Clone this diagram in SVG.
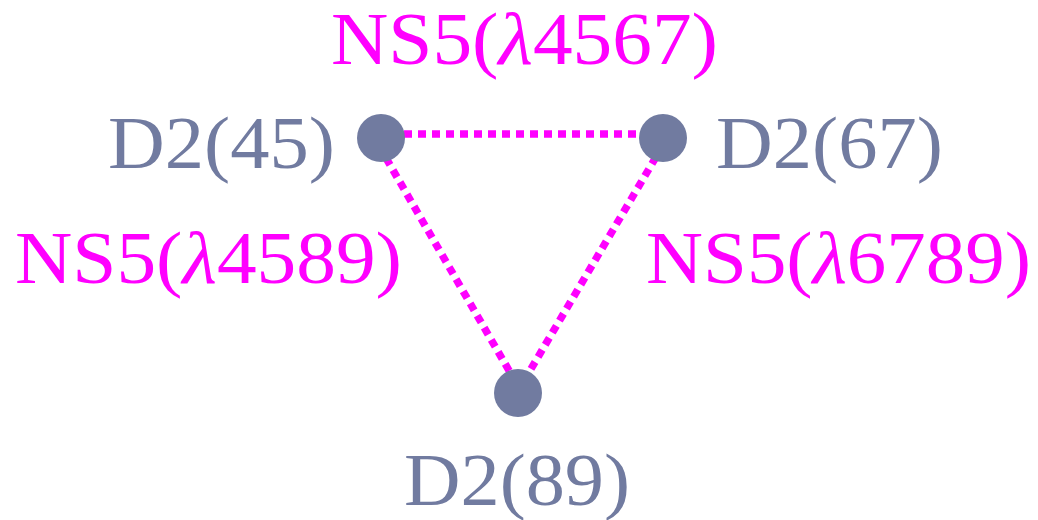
<svg xmlns="http://www.w3.org/2000/svg" width="1038" height="520" viewBox="0 0 1038 520">
<style>
.node{fill:#717ba0}
.lbl{font-family:"Liberation Serif",serif;font-size:73px;fill:#717ba0}
.elbl{font-family:"Liberation Serif",serif;font-size:73px;fill:#ff00ff}
.edge{stroke:#ff00ff;stroke-width:7.5;stroke-dasharray:8 6;fill:none}
.it{font-style:italic}
</style>
<rect width="1038" height="520" fill="#ffffff"/>
<g id="connectors">
<line class="edge" x1="404" y1="134" x2="640" y2="134"/>
<line class="edge" x1="386" y1="158" x2="511" y2="374"/>
<line class="edge" x1="656" y1="157" x2="528" y2="374"/>
</g>
<g id="n45">
<circle class="node" cx="381" cy="138" r="24"/>
<text class="lbl" x="108" y="168" textLength="227" lengthAdjust="spacingAndGlyphs">D2(45)</text>
</g>
<g id="n67">
<circle class="node" cx="663" cy="138" r="24"/>
<text class="lbl" x="716" y="168" textLength="227" lengthAdjust="spacingAndGlyphs">D2(67)</text>
</g>
<g id="n89">
<circle class="node" cx="518" cy="393" r="24"/>
<text class="lbl" x="404" y="505" textLength="226" lengthAdjust="spacingAndGlyphs">D2(89)</text>
</g>
<g id="e4567">
<text class="elbl" x="331" y="64" textLength="387" lengthAdjust="spacingAndGlyphs">NS5(<tspan class="it">λ</tspan>4567)</text>
</g>
<g id="e4589">
<text class="elbl" x="15" y="283" textLength="387" lengthAdjust="spacingAndGlyphs">NS5(<tspan class="it">λ</tspan>4589)</text>
</g>
<g id="e6789">
<text class="elbl" x="646" y="283" textLength="385" lengthAdjust="spacingAndGlyphs">NS5(<tspan class="it">λ</tspan>6789)</text>
</g>
</svg>
